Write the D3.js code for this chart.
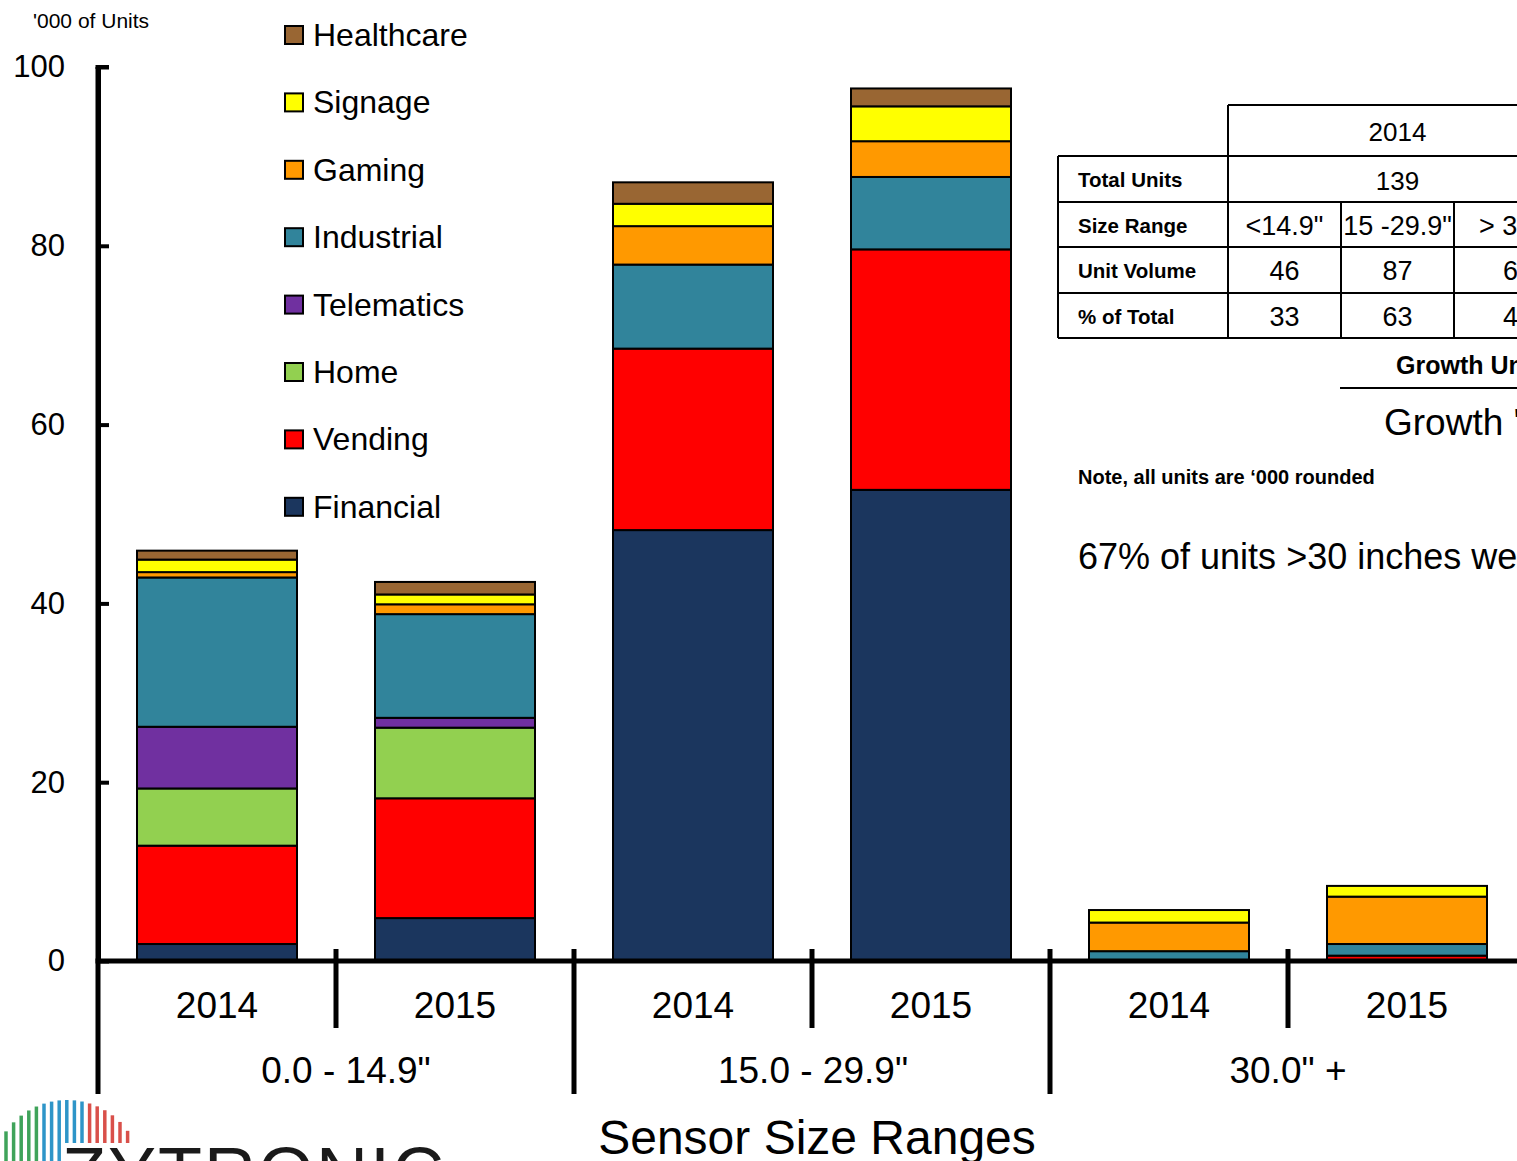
<!DOCTYPE html>
<html>
<head>
<meta charset="utf-8">
<script src="https://cdn.jsdelivr.net/npm/d3@7"></script>
<style>
  html, body { margin: 0; padding: 0; background: #fff; overflow: hidden; }
  svg { display: block; font-family: "Liberation Sans", Arial, sans-serif; }
</style>
</head>
<body>
<svg id="chart" width="1517" height="1161"></svg>
<script>
// ---- data ('000 of units) ----
const years = ["2014", "2015", "2014", "2015", "2014", "2015"];
const sizeGroups = ["0.0 - 14.9\"", "15.0 - 29.9\"", "30.0\" +"];

// stacked bottom -> top
const segments = ["Financial", "Vending", "Home", "Telematics", "Industrial", "Gaming", "Signage", "Healthcare"];
const financial  = [1.9, 4.8, 48.2, 52.7, 0.0, 0.0];
const vending    = [11.0, 13.4, 20.3, 26.9, 0.0, 0.6];
const home       = [6.4, 7.9, 0.0, 0.0, 0.0, 0.0];
const telematics = [6.9, 1.1, 0.0, 0.0, 0.0, 0.0];
const industrial = [16.7, 11.6, 9.4, 8.1, 1.1, 1.3];
const gaming     = [0.6, 1.1, 4.3, 4.0, 3.2, 5.3];
const signage    = [1.4, 1.1, 2.5, 3.9, 1.4, 1.2];
const healthcare = [1.0, 1.4, 2.4, 2.0, 0.0, 0.0];

const segmentColors = ["#1b365e", "#ff0000", "#92d050", "#7030a0", "#31849b", "#ff9900", "#ffff00", "#996633"];
const legendOrder = ["Healthcare", "Signage", "Gaming", "Industrial", "Telematics", "Home", "Vending", "Financial"];
const yTicks = [0, 20, 40, 60, 80, 100];

// summary table
const tableYear = "2014";
const totalUnits = 139;
const rowLabels = ["Total Units", "Size Range", "Unit Volume", "% of Total"];
const sizeRangeLabels = ["<14.9\"", "15 -29.9\"", "> 30\""];
const unitVolume = [46, 87, 6];
const pctOfTotal = [33, 63, 4];

// ---- setup ----
const svg = d3.select("#chart");
const series = [financial, vending, home, telematics, industrial, gaming, signage, healthcare];
const rows = years.map((y, i) => {
  const r = { idx: i };
  segments.forEach((s, k) => r[s] = series[k][i]);
  return r;
});
const color = d3.scaleOrdinal(segments, segmentColors);

const x0 = 98, step = 238;
const x = d3.scaleBand().domain(d3.range(years.length)).range([x0, x0 + step * years.length]).padding(0);
const barW = 160;
const y = d3.scaleLinear().domain([0, 100]).range([961, 67]);

const stacked = d3.stack().keys(segments)(rows);

// ---- bars ----
const gBars = svg.append("g");
stacked.forEach(layer => {
  gBars.selectAll(null)
    .data(layer.filter(d => d[1] - d[0] > 0))
    .join("rect")
    .attr("x", d => x(d.data.idx) + (x.bandwidth() - barW) / 2)
    .attr("width", barW)
    .attr("y", d => y(d[1]))
    .attr("height", d => y(d[0]) - y(d[1]))
    .attr("fill", color(layer.key))
    .attr("stroke", "#000")
    .attr("stroke-width", 2);
});

// ---- y axis ----
const yAxis = d3.axisLeft(y).tickValues(yTicks).tickSizeInner(-11).tickSizeOuter(0).tickPadding(33);
const gy = svg.append("g").attr("transform", `translate(${x0},0)`).call(yAxis);
gy.select(".domain").attr("stroke", "#000").attr("stroke-width", 5);
gy.selectAll(".tick line").attr("stroke", "#000").attr("stroke-width", 4);
gy.selectAll(".tick text").attr("font-size", 31).attr("fill", "#000")
  .attr("font-family", "Liberation Sans, Arial, sans-serif");
svg.append("line").attr("x1", x0 - 2.5).attr("x2", x0 + 11).attr("y1", y(100)).attr("y2", y(100))
  .attr("stroke", "#000").attr("stroke-width", 4);

svg.append("text").attr("x", 33).attr("y", 28).attr("font-size", 21).text("'000 of Units");

// ---- x axis ----
svg.append("line").attr("x1", x0 - 2.5).attr("x2", 1517).attr("y1", y(0)).attr("y2", y(0))
  .attr("stroke", "#000").attr("stroke-width", 5);
svg.append("line").attr("x1", x0).attr("x2", x0).attr("y1", y(100)).attr("y2", 1094)
  .attr("stroke", "#000").attr("stroke-width", 5);
// year and group separators
d3.range(1, years.length).forEach(i => {
  const isGroup = i % 2 === 0;
  svg.append("line").attr("x1", x(i)).attr("x2", x(i))
    .attr("y1", 949).attr("y2", isGroup ? 1094 : 1028)
    .attr("stroke", "#000").attr("stroke-width", 5);
});
svg.selectAll(".yr").data(years).join("text")
  .attr("x", (d, i) => x(i) + x.bandwidth() / 2)
  .attr("y", 1018).attr("text-anchor", "middle").attr("font-size", 37).text(d => d);
const groupShift = [10, 1, 0];
svg.selectAll(".grp").data(sizeGroups).join("text")
  .attr("x", (d, i) => x(i * 2 + 1) + groupShift[i])
  .attr("y", 1083).attr("text-anchor", "middle").attr("font-size", 37).text(d => d);
svg.append("text").attr("x", 817).attr("y", 1154).attr("text-anchor", "middle")
  .attr("font-size", 48).text("Sensor Size Ranges");

// ---- legend ----
const lg = svg.append("g");
legendOrder.forEach((name, i) => {
  const cy = 35 + i * 67.4;
  lg.append("rect").attr("x", 285).attr("y", cy - 9).attr("width", 18).attr("height", 18)
    .attr("fill", color(name)).attr("stroke", "#000").attr("stroke-width", 2);
  lg.append("text").attr("x", 313).attr("y", cy + 11).attr("font-size", 32).text(name);
});

// ---- summary table ----
const tb = svg.append("g");
const tL = 1058, tC = 1228, colW = 113, tR = 1517 + 60;
const rowY = [156, 202, 247, 293, 338];
const line = (x1, y1, x2, y2) => tb.append("line").attr("x1", x1).attr("y1", y1).attr("x2", x2).attr("y2", y2)
  .attr("stroke", "#000").attr("stroke-width", 2);
line(tC, 105, tR, 105);
line(tC, 105, tC, 338);
line(tL, 156, tL, 338);
rowY.forEach(yy => line(tL, yy, tR, yy));
[1, 2, 3].forEach(k => line(tC + k * colW, 202, tC + k * colW, 338));

tb.append("text").attr("x", tC + 1.5 * colW).attr("y", 141).attr("text-anchor", "middle")
  .attr("font-size", 26).text(tableYear);
rowLabels.forEach((lab, i) => {
  tb.append("text").attr("x", 1078).attr("y", rowY[i] + 31).attr("font-size", 20.5)
    .attr("font-weight", "bold").text(lab);
});
tb.append("text").attr("x", tC + 1.5 * colW).attr("y", 190).attr("text-anchor", "middle")
  .attr("font-size", 26).text(totalUnits);
const valueRows = [sizeRangeLabels, unitVolume, pctOfTotal];
valueRows.forEach((vals, r) => {
  vals.forEach((v, c) => {
    tb.append("text").attr("x", tC + (c + 0.5) * colW).attr("y", rowY[r + 1] + 33)
      .attr("text-anchor", "middle").attr("font-size", 27).text(v);
  });
});

svg.append("text").attr("x", 1396).attr("y", 374).attr("font-size", 25).attr("font-weight", "bold").text("Growth Units");
svg.append("line").attr("x1", 1340).attr("x2", 1517).attr("y1", 388).attr("y2", 388).attr("stroke", "#000").attr("stroke-width", 2);
svg.append("text").attr("x", 1384).attr("y", 435).attr("font-size", 37).text("Growth '14-'15");
svg.append("text").attr("x", 1078).attr("y", 484).attr("font-size", 20).attr("font-weight", "bold")
  .text("Note, all units are \u2018000 rounded");
svg.append("text").attr("x", 1078).attr("y", 569).attr("font-size", 36).text("67% of units >30 inches were");

// ---- logo ----
const logo = svg.append("g");
const cx = 67, cyc = 1175, R = 75;
d3.range(0, 17).forEach(k => {
  const sx = 6 + k * 7.6;
  const dx = sx - cx;
  if (Math.abs(dx) >= R) return;
  const h = Math.sqrt(R * R - dx * dx);
  const top = cyc - h;
  const bottom = sx > 60 ? 1143 : 1161;
  const col = sx < 44 ? "#3fa35a" : (sx < 84 ? "#2e95c8" : "#d9504a");
  logo.append("line").attr("x1", sx).attr("x2", sx).attr("y1", top).attr("y2", bottom)
    .attr("stroke", col).attr("stroke-width", 3.5);
});
logo.append("text").attr("x", 62).attr("y", 1198).attr("font-size", 72).attr("fill", "#1a1a1a")
  .attr("letter-spacing", 2).text("ZYTRONIC");
</script>
</body>
</html>
